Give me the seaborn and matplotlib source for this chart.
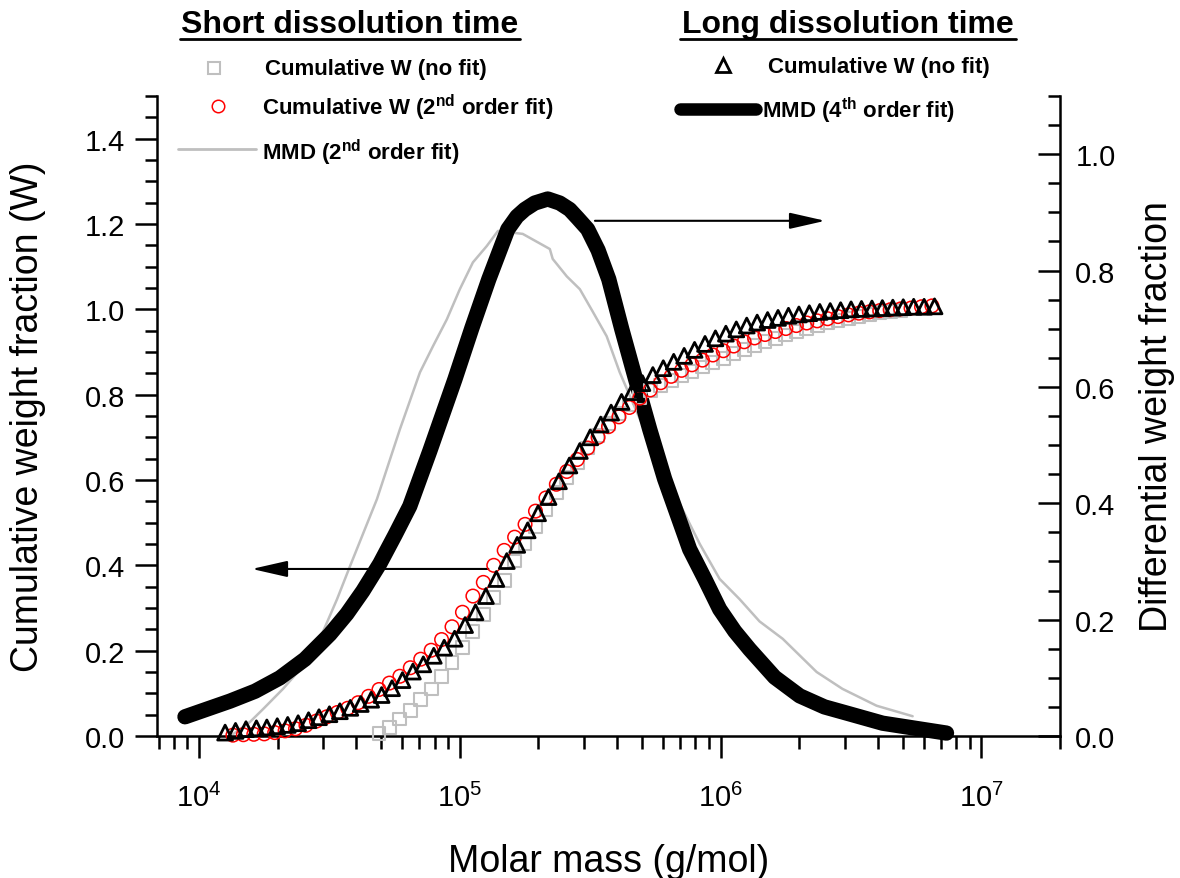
import numpy as np
import pandas as pd
import matplotlib
matplotlib.use("Agg")
import matplotlib.pyplot as plt
import seaborn as sns
from matplotlib.lines import Line2D
from matplotlib.ticker import LogLocator, MultipleLocator, NullFormatter, FormatStrFormatter

# ---------------- data ----------------
# Long dissolution time: cumulative W (no fit), triangles  (left axis)
long_cum_log10M = [4.10, 4.14, 4.18, 4.22, 4.26, 4.30, 4.34, 4.38, 4.42, 4.46,
                   4.50, 4.54, 4.58, 4.62, 4.66, 4.70, 4.74, 4.78, 4.82, 4.86,
                   4.90, 4.94, 4.98, 5.02, 5.06, 5.10, 5.14, 5.18, 5.22, 5.26,
                   5.30, 5.34, 5.38, 5.42, 5.46, 5.50, 5.54, 5.58, 5.62, 5.66,
                   5.70, 5.74, 5.78, 5.82, 5.86, 5.90, 5.94, 5.98, 6.02, 6.06,
                   6.10, 6.14, 6.18, 6.22, 6.26, 6.30, 6.34, 6.38, 6.42, 6.46,
                   6.50, 6.54, 6.58, 6.62, 6.66, 6.70, 6.74, 6.78, 6.82]
long_cum_W = [0.008, 0.012, 0.016, 0.018, 0.020, 0.023, 0.026, 0.030, 0.037, 0.044,
              0.051, 0.058, 0.066, 0.075, 0.085, 0.096, 0.112, 0.131, 0.151, 0.168,
              0.188, 0.207, 0.228, 0.260, 0.290, 0.328, 0.368, 0.410, 0.448, 0.482,
              0.522, 0.560, 0.597, 0.634, 0.668, 0.700, 0.730, 0.758, 0.783, 0.806,
              0.827, 0.846, 0.862, 0.877, 0.891, 0.905, 0.919, 0.932, 0.943, 0.953,
              0.962, 0.969, 0.975, 0.980, 0.985, 0.988, 0.991, 0.994, 0.996, 0.998,
              1.000, 1.001, 1.002, 1.003, 1.004, 1.005, 1.006, 1.006, 1.007]

# Short dissolution time: cumulative W (2nd order fit), red circles (left axis)
short_fit_log10M = [4.13, 4.17, 4.21, 4.25, 4.29, 4.33, 4.37, 4.41, 4.45, 4.49,
                    4.53, 4.57, 4.61, 4.65, 4.69, 4.73, 4.77, 4.81, 4.85, 4.89,
                    4.93, 4.97, 5.01, 5.05, 5.09, 5.13, 5.17, 5.21, 5.25, 5.29,
                    5.33, 5.37, 5.41, 5.45, 5.49, 5.53, 5.57, 5.61, 5.65, 5.69,
                    5.73, 5.77, 5.81, 5.85, 5.89, 5.93, 5.97, 6.01, 6.05, 6.09,
                    6.13, 6.17, 6.21, 6.25, 6.29, 6.33, 6.37, 6.41, 6.45, 6.49,
                    6.53, 6.57, 6.61, 6.65, 6.69, 6.73, 6.77, 6.81]
short_fit_W = [0.002, 0.003, 0.004, 0.005, 0.008, 0.012, 0.017, 0.025, 0.035, 0.045,
               0.055, 0.065, 0.078, 0.093, 0.109, 0.124, 0.140, 0.160, 0.180, 0.201,
               0.226, 0.256, 0.290, 0.328, 0.360, 0.400, 0.435, 0.466, 0.496, 0.527,
               0.558, 0.590, 0.620, 0.648, 0.675, 0.700, 0.725, 0.748, 0.770, 0.792,
               0.811, 0.828, 0.843, 0.857, 0.870, 0.881, 0.893, 0.903, 0.914, 0.924,
               0.933, 0.941, 0.948, 0.955, 0.962, 0.968, 0.973, 0.978, 0.983, 0.987,
               0.991, 0.994, 0.997, 0.999, 1.001, 1.003, 1.006, 1.008]

# Short dissolution time: cumulative W (no fit), grey squares (left axis)
short_raw_log10M = [4.69, 4.73, 4.77, 4.81, 4.85, 4.89, 4.93, 4.97, 5.01, 5.05,
                    5.09, 5.13, 5.17, 5.21, 5.25, 5.29, 5.33, 5.37, 5.41, 5.45,
                    5.49, 5.53, 5.57, 5.61, 5.65, 5.69, 5.73, 5.77, 5.81, 5.85,
                    5.89, 5.93, 5.97, 6.01, 6.05, 6.09, 6.13, 6.17, 6.21, 6.25,
                    6.29, 6.33, 6.37, 6.41, 6.45, 6.49, 6.53, 6.57, 6.61, 6.65,
                    6.69]
short_raw_W = [0.005, 0.020, 0.040, 0.060, 0.085, 0.110, 0.140, 0.172, 0.208, 0.245,
               0.285, 0.325, 0.365, 0.410, 0.450, 0.490, 0.530, 0.570, 0.606, 0.640,
               0.675, 0.705, 0.732, 0.756, 0.776, 0.794, 0.810, 0.822, 0.834, 0.845,
               0.855, 0.865, 0.875, 0.885, 0.896, 0.906, 0.915, 0.924, 0.932, 0.940,
               0.948, 0.955, 0.962, 0.968, 0.974, 0.979, 0.984, 0.988, 0.992, 0.995,
               0.997]

# Short dissolution time: MMD (2nd order fit), grey line (right axis)
short_mmd_log10M = [4.130, 4.195, 4.245, 4.322, 4.398, 4.475, 4.529, 4.579, 4.682, 4.770,
                    4.847, 4.897, 4.950, 5.000, 5.050, 5.103, 5.146, 5.241, 5.345, 5.356,
                    5.410, 5.460, 5.510, 5.563, 5.613, 5.690, 5.766, 5.843, 5.920, 5.996,
                    6.073, 6.149, 6.238, 6.368, 6.467, 6.598, 6.736]
short_mmd_dW = [0.003, 0.024, 0.046, 0.081, 0.120, 0.179, 0.235, 0.292, 0.407, 0.527,
                0.625, 0.670, 0.716, 0.768, 0.814, 0.842, 0.868, 0.863, 0.837, 0.820,
                0.790, 0.768, 0.729, 0.687, 0.625, 0.545, 0.473, 0.399, 0.330, 0.270,
                0.235, 0.197, 0.167, 0.110, 0.081, 0.052, 0.034]

# Long dissolution time: MMD (4th order fit), thick black line (right axis)
long_mmd_log10M = [3.946, 4.119, 4.215, 4.310, 4.406, 4.502, 4.567, 4.628, 4.693, 4.751,
                   4.808, 4.885, 4.981, 5.046, 5.111, 5.184, 5.219, 5.249, 5.287, 5.337,
                   5.383, 5.421, 5.452, 5.490, 5.530, 5.571, 5.621, 5.674, 5.728, 5.785,
                   5.881, 5.939, 5.996, 6.054, 6.111, 6.207, 6.303, 6.398, 6.494, 6.621,
                   6.866]
long_mmd_dW = [0.033, 0.060, 0.077, 0.100, 0.132, 0.175, 0.210, 0.249, 0.296, 0.345,
               0.395, 0.490, 0.613, 0.701, 0.785, 0.871, 0.893, 0.905, 0.916, 0.923,
               0.916, 0.905, 0.890, 0.871, 0.835, 0.785, 0.699, 0.613, 0.527, 0.442,
               0.321, 0.270, 0.218, 0.180, 0.149, 0.101, 0.069, 0.050, 0.038, 0.022,
               0.005]

# ---------------- style ----------------
sns.set_style("ticks")
plt.rcParams["font.family"] = ["Liberation Sans", "DejaVu Sans"]
plt.rcParams["mathtext.fontset"] = "custom"
plt.rcParams["mathtext.rm"] = "Liberation Sans"
plt.rcParams["mathtext.it"] = "Liberation Sans:italic"
plt.rcParams["mathtext.bf"] = "Liberation Sans:bold"
plt.rcParams["mathtext.default"] = "regular"
for key in ["text.color", "axes.labelcolor", "xtick.color", "ytick.color", "axes.edgecolor"]:
    plt.rcParams[key] = "black"

GREY = "#bfbfbf"
RED = "#ff0000"

W, H = 1180, 879
fig = plt.figure(figsize=(W / 100, H / 100), dpi=100)
ax = fig.add_axes([157 / W, 1 - 737 / H, 903 / W, 640 / H])
ax2 = ax.twinx()

df_long = pd.DataFrame({"M": 10 ** np.array(long_cum_log10M), "W": long_cum_W})
df_fit = pd.DataFrame({"M": 10 ** np.array(short_fit_log10M), "W": short_fit_W})
df_raw = pd.DataFrame({"M": 10 ** np.array(short_raw_log10M), "W": short_raw_W})
df_smmd = pd.DataFrame({"M": 10 ** np.array(short_mmd_log10M), "dW": short_mmd_dW})
df_lmmd = pd.DataFrame({"M": 10 ** np.array(long_mmd_log10M), "dW": long_mmd_dW})

# right axis curves
sns.lineplot(data=df_smmd, x="M", y="dW", ax=ax2, color=GREY, linewidth=1.8,
             sort=False, estimator=None, clip_on=False)
sns.lineplot(data=df_lmmd, x="M", y="dW", ax=ax2, color="black", linewidth=11,
             sort=False, estimator=None, clip_on=False,
             solid_capstyle="round", solid_joinstyle="round")

# left axis markers
sns.scatterplot(data=df_raw, x="M", y="W", ax=ax, marker="s", s=85,
                facecolor="none", edgecolor=GREY, linewidth=1.5, clip_on=False, zorder=3)
sns.scatterplot(data=df_fit, x="M", y="W", ax=ax, marker="o", s=95,
                facecolor="none", edgecolor=RED, linewidth=1.1, clip_on=False, zorder=4)
sns.scatterplot(data=df_long, x="M", y="W", ax=ax, marker="^", s=115,
                facecolor="none", edgecolor="black", linewidth=2.0, clip_on=False, zorder=5)

ax.set_zorder(ax2.get_zorder() + 1)
ax.patch.set_visible(False)

# axes scales / limits
ax.set_xscale("log")
ax.set_xlim(6.9e3, 2.0e7)
ax.set_ylim(0, 1.5)
ax2.set_ylim(0, 1.1)

ax.xaxis.set_major_locator(LogLocator(base=10, numticks=10))
ax.xaxis.set_minor_locator(LogLocator(base=10, subs=np.arange(2, 10), numticks=100))
ax.xaxis.set_minor_formatter(NullFormatter())
ax.yaxis.set_major_locator(MultipleLocator(0.2))
ax.yaxis.set_minor_locator(MultipleLocator(0.05))
ax.yaxis.set_major_formatter(FormatStrFormatter("%.1f"))
ax2.yaxis.set_major_locator(MultipleLocator(0.2))
ax2.yaxis.set_minor_locator(MultipleLocator(0.05))
ax2.yaxis.set_major_formatter(FormatStrFormatter("%.1f"))

for a in (ax, ax2):
    for s in a.spines.values():
        s.set_linewidth(1.8)
        s.set_color("black")
ax.spines["top"].set_visible(False)
ax.spines["right"].set_visible(False)
ax2.spines["top"].set_visible(False)
ax2.spines["left"].set_visible(False)
ax2.spines["bottom"].set_visible(False)

ax.tick_params(axis="both", which="major", direction="out", length=16, width=1.8,
               labelsize=21, color="black")
ax.tick_params(axis="both", which="minor", direction="out", length=9, width=1.8, color="black")
ax.tick_params(axis="x", which="major", pad=18)
ax.tick_params(axis="y", which="major", pad=7)
ax.tick_params(axis="y", which="both", right=False)
ax2.tick_params(axis="y", which="major", direction="in", length=16, width=1.8,
                labelsize=21, pad=11)
ax2.tick_params(axis="y", which="minor", direction="in", length=9, width=1.8)

ax.set_xlabel("Molar mass (g/mol)", fontsize=27, labelpad=22)
ax.set_ylabel("Cumulative weight fraction (W)", fontsize=27, labelpad=28)
ax2.set_ylabel("Differential weight fraction", fontsize=27, labelpad=17)

# arrows
ax.annotate("", xy=(0.740, 0.805), xytext=(0.485, 0.805), xycoords="axes fraction",
            arrowprops=dict(arrowstyle="-|>,head_length=1.1,head_width=0.25",
                            color="black", lw=1.5, mutation_scale=20, shrinkA=0, shrinkB=0))
ax.annotate("", xy=(0.105, 0.261), xytext=(0.367, 0.261), xycoords="axes fraction",
            arrowprops=dict(arrowstyle="-|>,head_length=1.1,head_width=0.25",
                            color="black", lw=1.5, mutation_scale=20, shrinkA=0, shrinkB=0))

# ---------------- legend block (figure pixel coordinates) ----------------
def fx(px):
    return px / W

def fy(py):
    return 1 - py / H

tf = fig.transFigure
fig.text(fx(350), fy(25), "Short dissolution time", fontsize=23, fontweight="bold",
         ha="center", va="center")
fig.add_artist(Line2D([fx(180), fx(520)], [fy(40), fy(40)], transform=tf, color="black", lw=2))
fig.text(fx(848), fy(25), "Long dissolution time", fontsize=23, fontweight="bold",
         ha="center", va="center")
fig.add_artist(Line2D([fx(680), fx(1016)], [fy(40), fy(40)], transform=tf, color="black", lw=2))

fig.add_artist(Line2D([fx(214)], [fy(69)], transform=tf, marker="s", ms=8.5, mfc="none",
                      mec=GREY, mew=1.5, ls="none"))
fig.text(fx(265), fy(70), "Cumulative W (no fit)", fontsize=16, fontweight="bold",
         ha="left", va="center")
fig.add_artist(Line2D([fx(218)], [fy(107)], transform=tf, marker="o", ms=9, mfc="none",
                      mec=RED, mew=1.1, ls="none"))
fig.text(fx(262), fy(108), r"Cumulative W (2$^{\mathbf{nd}}$ order fit)", fontsize=16,
         fontweight="bold", ha="left", va="center")
fig.add_artist(Line2D([fx(178), fx(256)], [fy(150), fy(150)], transform=tf, color=GREY, lw=2))
fig.text(fx(262), fy(153), r"MMD (2$^{\mathbf{nd}}$ order fit)", fontsize=16,
         fontweight="bold", ha="left", va="center")

fig.add_artist(Line2D([fx(723)], [fy(66)], transform=tf, marker="^", ms=9.5, mfc="none",
                      mec="black", mew=2.0, ls="none"))
fig.text(fx(768), fy(68), "Cumulative W (no fit)", fontsize=16, fontweight="bold",
         ha="left", va="center")
fig.add_artist(Line2D([fx(680), fx(756)], [fy(110), fy(110)], transform=tf, color="black",
                      lw=9, solid_capstyle="round"))
fig.text(fx(762), fy(111), r"MMD (4$^{\mathbf{th}}$ order fit)", fontsize=16,
         fontweight="bold", ha="left", va="center")

fig.savefig("out.png", dpi=100)
